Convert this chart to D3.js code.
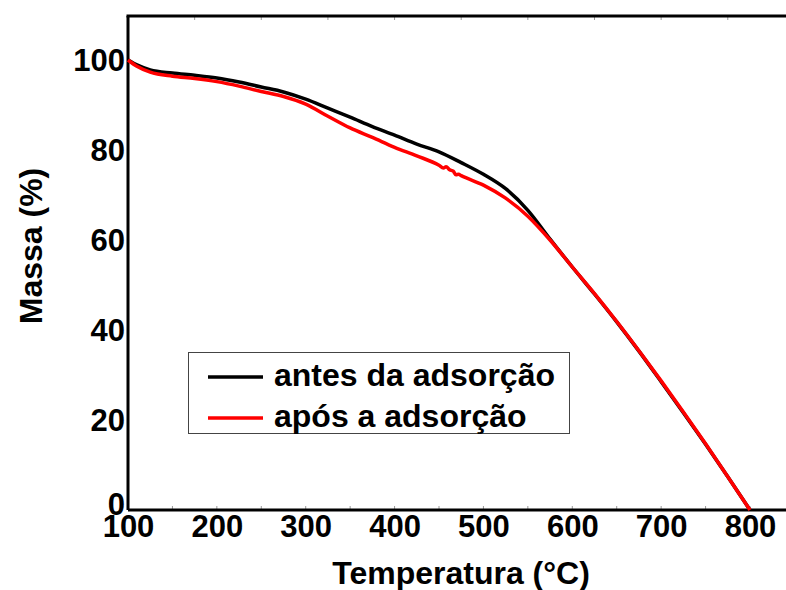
<!DOCTYPE html>
<html>
<head>
<meta charset="utf-8">
<script src="https://cdn.jsdelivr.net/npm/d3@7"></script>
<style>
  html, body { margin: 0; padding: 0; background: #fff; }
  svg { display: block; }
  text { font-family: "Liberation Sans", Arial, sans-serif; font-weight: bold; fill: #000; }
</style>
</head>
<body>
<svg id="chart" width="786" height="590"></svg>
<script>
// Temperature (°C) sampling points for each TGA curve
const tempAntes = [100, 110, 125, 150, 175, 200, 225, 250, 275, 300, 325, 350, 375, 400, 425, 450, 475, 500, 525, 550, 575, 600, 625, 650, 675, 700, 725, 750, 775, 800];
const massaAntes = [100, 98.9, 97.8, 97.1, 96.6, 96.0, 95.1, 94.0, 92.9, 91.3, 89.3, 87.3, 85.2, 83.3, 81.3, 79.6, 77.2, 74.6, 71.4, 66.6, 60.2, 54.0, 48.0, 41.8, 35.3, 28.5, 21.6, 14.6, 7.4, 0];

const tempApos = [100, 110, 125, 150, 175, 200, 225, 250, 275, 300, 325, 350, 375, 400, 425, 450, 455, 458, 462, 466, 469, 472, 475, 500, 525, 550, 575, 600, 625, 650, 675, 700, 725, 750, 775, 800];
const massaApos = [100, 98.6, 97.3, 96.4, 95.9, 95.2, 94.2, 93.0, 91.9, 90.2, 87.5, 84.9, 82.8, 80.6, 78.7, 76.6, 76.0, 76.3, 75.6, 75.3, 74.5, 74.6, 74.3, 72.2, 69.3, 65.3, 60.0, 54.0, 48.1, 41.9, 35.4, 28.7, 21.8, 14.7, 7.4, 0];

const xTicks = [100, 200, 300, 400, 500, 600, 700, 800];
const yTicks = [0, 20, 40, 60, 80, 100];
const seriesNames = ["antes da adsorção", "após a adsorção"];
const seriesColors = ["#000000", "#ff0000"];

const svg = d3.select("#chart");
const W = 786;
const plotLeft = 128, plotBottom = 510, plotTop = 16;

const x = d3.scaleLinear().domain([100, 800]).range([plotLeft, 750]);
const y = d3.scaleLinear().domain([0, 100]).range([plotBottom, 60]);

// minor ticks along the bottom and top borders
const minorBottom = d3.range(150, 850, 50);
svg.append("g").selectAll("line").data(minorBottom).join("line")
  .attr("x1", d => x(d)).attr("x2", d => x(d))
  .attr("y1", plotBottom - 4).attr("y2", plotBottom)
  .attr("stroke", "#999").attr("stroke-width", 1);
const minorTop = d3.range(175, 850, 75);
svg.append("g").selectAll("line").data(minorTop).join("line")
  .attr("x1", d => x(d)).attr("x2", d => x(d))
  .attr("y1", plotTop).attr("y2", plotTop + 4)
  .attr("stroke", "#999").attr("stroke-width", 1);

// frame: left, bottom and top borders
svg.append("line").attr("x1", plotLeft).attr("x2", W).attr("y1", plotBottom).attr("y2", plotBottom)
  .attr("stroke", "#000").attr("stroke-width", 3);
svg.append("line").attr("x1", plotLeft - 1.5).attr("x2", W).attr("y1", plotTop).attr("y2", plotTop)
  .attr("stroke", "#000").attr("stroke-width", 3);
svg.append("line").attr("x1", plotLeft).attr("x2", plotLeft).attr("y1", plotTop).attr("y2", plotBottom)
  .attr("stroke", "#000").attr("stroke-width", 3);

// x axis labels
const xAxis = d3.axisBottom(x).tickValues(xTicks).tickSize(0).tickPadding(0);
const gx = svg.append("g").attr("transform", `translate(0,${plotBottom})`).call(xAxis);
gx.select(".domain").remove();
gx.selectAll("text")
  .attr("y", 27).attr("dy", 0)
  .style("font-size", "31px").style("font-family", "'Liberation Sans', Arial, sans-serif").style("font-weight", "bold");

// y axis labels (the zero label sits a little higher, above the corner)
const yAxis = d3.axisLeft(y).tickValues(yTicks).tickSize(0).tickPadding(3);
const gy = svg.append("g").attr("transform", `translate(${plotLeft},0)`).call(yAxis);
gy.select(".domain").remove();
gy.selectAll("text")
  .attr("dy", d => d === 0 ? "0.15em" : "0.33em")
  .style("font-size", "31px").style("font-family", "'Liberation Sans', Arial, sans-serif").style("font-weight", "bold");

// axis titles
svg.append("text").attr("x", 461).attr("y", 584).attr("text-anchor", "middle")
  .style("font-size", "32px").text("Temperatura (°C)");
svg.append("text").attr("transform", "translate(42,246) rotate(-90)").attr("text-anchor", "middle")
  .style("font-size", "32px").text("Massa (%)");

// curves
const line = d3.line().x(d => x(d[0])).y(d => y(d[1])).curve(d3.curveMonotoneX);
const antes = tempAntes.map((t, i) => [t, massaAntes[i]]);
const apos = tempApos.map((t, i) => [t, massaApos[i]]);
svg.append("path").datum(antes).attr("d", line)
  .attr("fill", "none").attr("stroke", seriesColors[0]).attr("stroke-width", 3.5);
svg.append("path").datum(apos).attr("d", line)
  .attr("fill", "none").attr("stroke", seriesColors[1]).attr("stroke-width", 3.5);

// legend
const lg = svg.append("g");
lg.append("rect").attr("x", 188.5).attr("y", 352.5).attr("width", 381).attr("height", 81)
  .attr("fill", "#fff").attr("stroke", "#444").attr("stroke-width", 1);
seriesNames.forEach((name, i) => {
  const cy = 377 + i * 41;
  lg.append("line").attr("x1", 208).attr("x2", 263).attr("y1", cy).attr("y2", cy)
    .attr("stroke", seriesColors[i]).attr("stroke-width", 3.5);
  lg.append("text").attr("x", 274).attr("y", cy + 9)
    .style("font-size", "32px").text(name);
});
</script>
</body>
</html>
